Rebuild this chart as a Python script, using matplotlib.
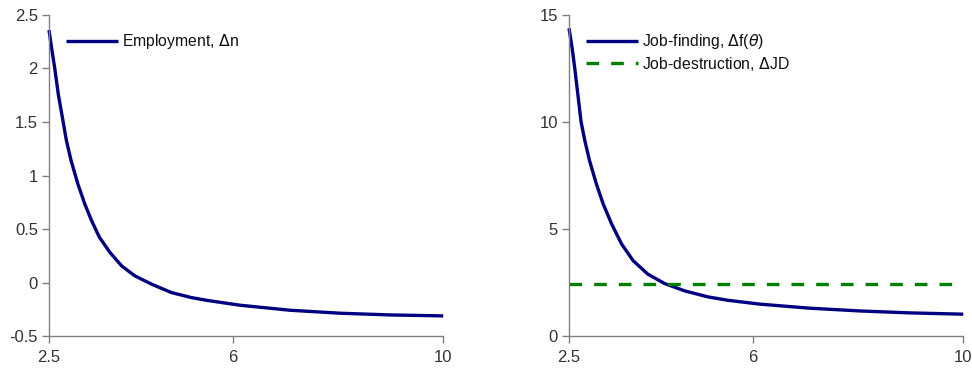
import matplotlib
matplotlib.use("Agg")
import matplotlib.pyplot as plt

plt.rcParams['font.family'] = ['Liberation Sans', 'DejaVu Sans']
plt.rcParams['mathtext.fontset'] = 'dejavusans'

# Left panel: employment response
emp_x = [2.50, 2.55, 2.61, 2.68, 2.77, 2.83, 2.92, 3.05, 3.18, 3.31, 3.46, 3.66,
         3.88, 4.13, 4.45, 4.83, 5.21, 5.52, 6.13, 7.08, 8.04, 8.99, 10.0]
emp_y = [2.36, 2.19, 2.00, 1.75, 1.50, 1.33, 1.14, 0.92, 0.735, 0.578, 0.422, 0.281,
         0.156, 0.063, -0.015, -0.094, -0.141, -0.168, -0.212, -0.259, -0.287, -0.303,
         -0.312]

# Right panel: job finding and job destruction
jf_x = [2.50, 2.56, 2.61, 2.73, 2.80, 2.89, 3.02, 3.15, 3.31, 3.50, 3.72, 4.00,
        4.32, 4.70, 5.14, 5.52, 6.13, 7.08, 8.04, 8.99, 10.0]
jf_y = [14.38, 13.44, 12.5, 10.0, 9.14, 8.20, 7.11, 6.17, 5.24, 4.30, 3.52, 2.89,
        2.45, 2.11, 1.83, 1.67, 1.49, 1.30, 1.17, 1.08, 1.02]
jd_level = 2.44

x_ticks = [2.5, 6, 10]
x_ticklabels = ['2.5', '6', '10']
left_yticks = [-0.5, 0, 0.5, 1, 1.5, 2, 2.5]
left_yticklabels = ['-0.5', '0', '0.5', '1', '1.5', '2', '2.5']
right_yticks = [0, 5, 10, 15]
right_yticklabels = ['0', '5', '10', '15']

navy = '#000080'
green = '#008000'
spine_c = '#808080'
text_c = '#333333'

fig = plt.figure(figsize=(9.72, 3.71), dpi=100)
axL = fig.add_axes([0.0504, 0.0943, 0.4056, 0.8653])
axR = fig.add_axes([0.5854, 0.0943, 0.4056, 0.8653])

def style(ax):
    for s in ['top', 'right']:
        ax.spines[s].set_visible(False)
    for s in ['left', 'bottom']:
        ax.spines[s].set_color(spine_c)
        ax.spines[s].set_linewidth(1.0)
    ax.tick_params(direction='out', length=5, width=1, color=spine_c,
                   labelsize=12, labelcolor=text_c)
    ax.tick_params(axis='x', pad=5)
    ax.tick_params(axis='y', pad=3)
    ax.set_xlim(2.5, 10)
    ax.set_xticks(x_ticks)
    ax.set_xticklabels(x_ticklabels)

leg_kw = dict(loc='upper left', bbox_to_anchor=(0.02, 0.975), frameon=False,
              fontsize=11.3, handlelength=3.3, handletextpad=0.25, borderaxespad=0.2,
              labelspacing=0.2, labelcolor='#111111')

style(axL)
axL.plot(emp_x, emp_y, color=navy, lw=2.4, label=r'Employment, $\Delta$n', clip_on=False,
         solid_capstyle='butt')
axL.set_ylim(-0.5, 2.5)
axL.set_yticks(left_yticks)
axL.set_yticklabels(left_yticklabels)
axL.legend(**leg_kw)

style(axR)
axR.plot(jf_x, jf_y, color=navy, lw=2.4, label=r'Job-finding, $\Delta$f($\theta$)', clip_on=False,
         solid_capstyle='butt')
axR.plot([jf_x[0], jf_x[-1]], [jd_level, jd_level], color=green, lw=2.4,
         linestyle=(0, (3.8, 3.6)), label=r'Job-destruction, $\Delta$JD')
axR.set_ylim(0, 15)
axR.set_yticks(right_yticks)
axR.set_yticklabels(right_yticklabels)
axR.legend(**leg_kw)

fig.savefig('out.png', dpi=100)
